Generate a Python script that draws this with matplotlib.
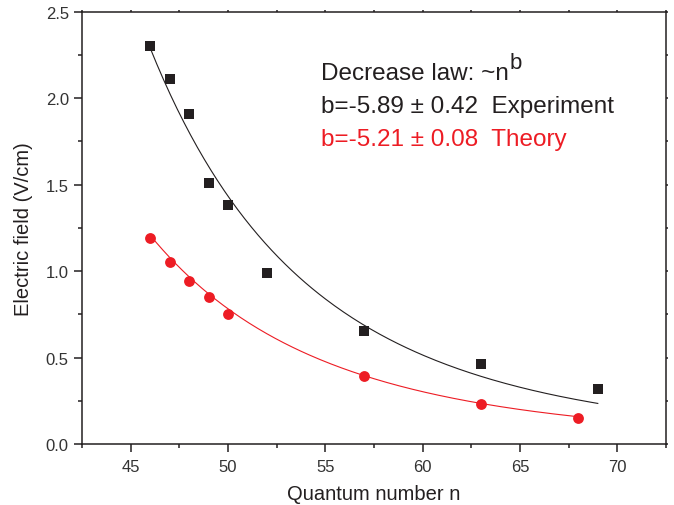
import numpy as np
import matplotlib
matplotlib.use("Agg")
import matplotlib.pyplot as plt
from matplotlib.ticker import MultipleLocator

plt.rcParams['font.family'] = ['Liberation Sans', 'DejaVu Sans']

# --- data ---
n_exp = [46, 47, 48, 49, 50, 52, 57, 63, 69]
field_exp = [2.30, 2.11, 1.91, 1.51, 1.38, 0.99, 0.655, 0.465, 0.32]

n_theory = [46, 47, 48, 49, 50, 57, 63, 68]
field_theory = [1.19, 1.05, 0.94, 0.85, 0.75, 0.395, 0.23, 0.15]

# power-law fit curves  E = E0 * (n / n0)^b  (as drawn)
fit_exp_n0, fit_exp_e0, fit_exp_b = 46, 2.29, -5.62
fit_th_n0, fit_th_e0, fit_th_b = 57, 0.395, -5.21

BLACK = '#231f20'
RED = '#ed1c24'

fig = plt.figure(figsize=(6.74, 5.06), dpi=100)
ax = fig.add_axes([0.1217, 0.1206, 0.988 - 0.1217, 0.975 - 0.1206])

# --- fit lines ---
n_fit = np.linspace(n_exp[0], n_exp[-1], 200)
ax.plot(n_fit, fit_exp_e0 * (n_fit / fit_exp_n0) ** fit_exp_b, color=BLACK, lw=0.8, zorder=2)
n_fit2 = np.linspace(n_theory[0], n_theory[-1], 200)
ax.plot(n_fit2, fit_th_e0 * (n_fit2 / fit_th_n0) ** fit_th_b, color=RED, lw=0.8, zorder=2)

# --- data points ---
ax.plot(n_exp, field_exp, 's', color=BLACK, ms=6.8, mew=0, zorder=3)
ax.plot(n_theory, field_theory, 'o', color=RED, ms=7.8, mew=0, zorder=3)

# --- axes ---
ax.set_xlim(42.5, 72.5)
ax.set_ylim(0, 2.5)
ax.xaxis.set_major_locator(MultipleLocator(5))
ax.xaxis.set_minor_locator(MultipleLocator(2.5))
ax.yaxis.set_major_locator(MultipleLocator(0.5))
ax.yaxis.set_minor_locator(MultipleLocator(0.25))
ax.yaxis.set_major_formatter(plt.FormatStrFormatter('%.1f'))

for s in ax.spines.values():
    s.set_linewidth(1.1)
    s.set_color(BLACK)
ax.tick_params(which='major', direction='out', length=6, width=1.1, labelsize=12,
               color=BLACK, labelcolor='#333333')
ax.tick_params(which='minor', direction='out', length=3, width=1.1, color=BLACK)
ax.tick_params(axis='x', which='major', pad=5)
ax.tick_params(axis='y', which='major', pad=3.5)
ax.tick_params(which='both', top=True, right=True)
for t in ax.xaxis.get_ticklines(minor=False)[1::2] + ax.xaxis.get_ticklines(minor=True)[1::2]:
    t.set_markersize(1.2)
for t in ax.yaxis.get_ticklines(minor=False)[1::2] + ax.yaxis.get_ticklines(minor=True)[1::2]:
    t.set_markersize(1.2)

ax.set_xlabel('Quantum number n', fontsize=14.5, labelpad=7, color='#231f20')
ax.set_ylabel('Electric field (V/cm)', fontsize=14.5, labelpad=9, color='#231f20')

# --- annotation ---
t1 = ax.text(54.8, 2.111, 'Decrease law: ~n', fontsize=17.5, color=BLACK, va='baseline')
ax.annotate('b', xy=(1, 0), xycoords=t1, xytext=(0.5, 8), textcoords='offset points',
            fontsize=16, color=BLACK, va='bottom', ha='left')
ax.text(54.8, 1.920, 'b=-5.89 \u00b1 0.42  Experiment', fontsize=17.5, color=BLACK, va='baseline')
ax.text(54.8, 1.729, 'b=-5.21 \u00b1 0.08  Theory', fontsize=17.5, color=RED, va='baseline')

fig.savefig('out.png', dpi=100)
